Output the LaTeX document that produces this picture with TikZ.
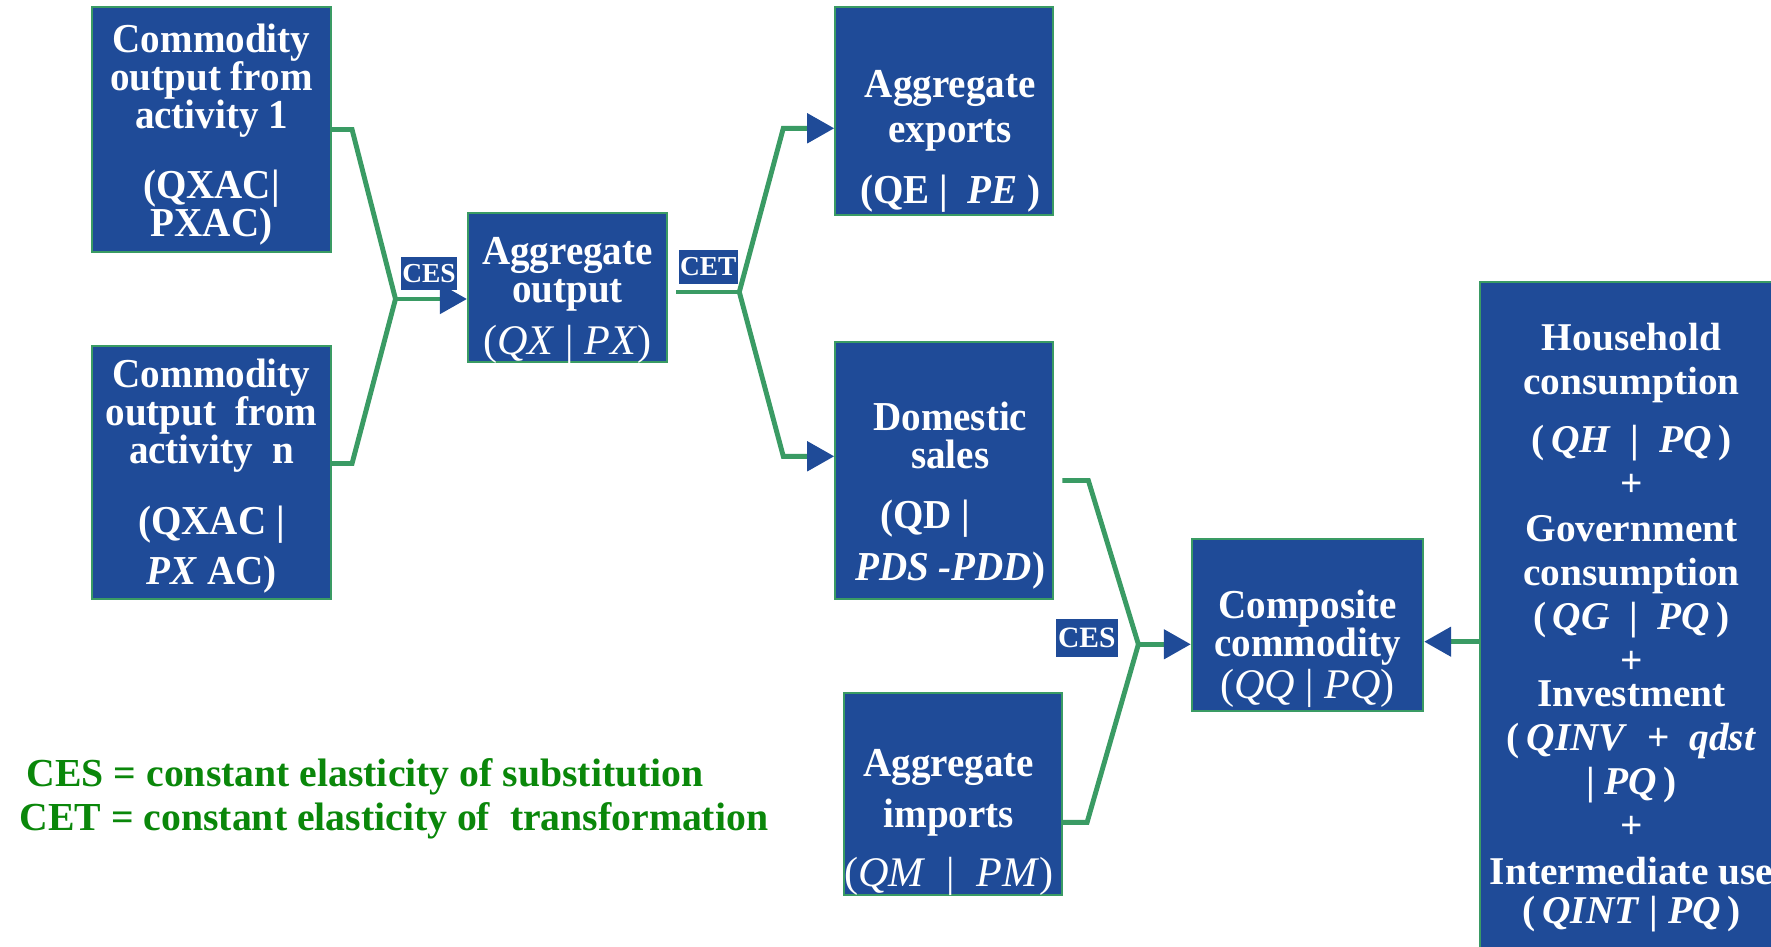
\documentclass[tikz,border=0pt]{standalone}
\usepackage{fontspec}
\setmainfont{Liberation Serif}
\newfontfamily\boxfont[FakeStretch=0.95]{Liberation Serif}
\usetikzlibrary{arrows.meta}
\definecolor{boxblue}{RGB}{31,75,152}
\definecolor{linegreen}{RGB}{58,155,100}
\definecolor{notegreen}{RGB}{10,135,10}
\newcommand{\priceline}[1]{{\rmfamily\mdseries\fontsize{12}{10.8}\selectfont #1}}

\begin{document}
\begin{tikzpicture}[
  block/.style={draw=linegreen, line width=0.6pt, fill=boxblue, inner sep=0pt},
  blocktext/.style={text=white, align=center, inner sep=0pt,
    font=\boxfont\bfseries\fontsize{11.7}{10.8}\selectfont},
  tag/.style={fill=boxblue, text=white, inner sep=0pt, font=\bfseries\fontsize{7.8}{8}\selectfont},
  link/.style={draw=linegreen, line width=1.4pt},
  feed/.style={link, -{Triangle[length=0.27cm, width=0.29cm, color=boxblue]}},
  note/.style={anchor=base west, inner sep=0pt, text=notegreen, font=\bfseries\fontsize{11.3}{12}\selectfont},
]

\useasboundingbox (0,0) rectangle (17.71,-9.47);
\clip (0,0) rectangle (17.71,-9.47);

\node[block, minimum width=2.39cm, minimum height=2.45cm] (act1) at (2.115,-1.295) {};
\node[blocktext] (act1text) at ([yshift=-0.05cm]act1)
  {Commodity\\output from\\activity 1\\[9pt](QXAC|\\PXAC)};
\node[block, minimum width=2.39cm, minimum height=2.53cm] (actn) at (2.115,-4.725) {};
\node[blocktext] (actntext) at ([yshift=-0.035cm]actn)
  {Commodity\\output~ from\\activity~ n\\[9.5pt](QXAC |\\[3.4pt]\textit{PX} AC)};

\node[block, minimum width=1.99cm, minimum height=1.49cm] (aggout) at (5.675,-2.875) {};
\node[blocktext] (aggouttext) at ([yshift=-0.13cm]aggout)
  {Aggregate\\output\\[3pt]\priceline{(\textit{QX} | \textit{PX})}};

\node[block, minimum width=2.18cm, minimum height=2.077cm] (exports) at (9.443,-1.112) {};
\node[blocktext] (exportstext) at ([shift={(0.06,-0.3)}]exports)
  {Aggregate\\[2pt]exports\\[6.5pt](QE |~ \textit{PE} )};
\node[block, minimum width=2.18cm, minimum height=2.576cm] (domestic) at (9.443,-4.705) {};
\node[blocktext] (domestictext) at ([shift={(0.06,-0.25)}]domestic)
  {Domestic\\sales\\[6.3pt](QD |\makebox[0.5cm]{}\\[3.9pt]\textit{PDS -PDD})};
\node[block, minimum width=2.175cm, minimum height=2.02cm] (imports) at (9.528,-7.943) {};
\node[blocktext] (importstext) at ([shift={(-0.04,-0.28)}]imports)
  {Aggregate\\[3.9pt]imports\\[4.8pt]\priceline{(\textit{QM} ~|~ \textit{PM})}};

\node[block, minimum width=2.313cm, minimum height=1.717cm] (composite) at (13.075,-6.25) {};
\node[blocktext] (compositetext) at ([yshift=-0.24cm]composite)
  {Composite\\commodity\\\priceline{(\textit{QQ} | \textit{PQ})}};

\node[block, minimum width=3.03cm, minimum height=7cm] (demand) at (16.315,-6.317) {};
\node[blocktext, font=\bfseries\fontsize{11.2}{12.5}\selectfont] (demandtext) at ([yshift=0.04cm]demand)
  {Household\\consumption\\[4pt](\,\textit{QH} ~|~ \textit{PQ}\,)\\+\\[0.4pt]Government\\consumption\\(\,\textit{QG} ~|~ \textit{PQ}\,)\\+\\[-3pt]Investment\\(\,\textit{QINV} ~+~ \textit{qdst}\\|~\textit{PQ}\,)\\+\\[0.5pt]Intermediate use\\[-1.3pt](\,\textit{QINT} | \textit{PQ}\,)};

\node[tag, minimum width=0.56cm, minimum height=0.33cm] (ces1) at (4.29,-2.735) {CES};
\node[tag, minimum width=0.587cm, minimum height=0.34cm] (cet) at (7.083,-2.67) {CET};
\node[tag, minimum width=0.617cm, minimum height=0.374cm, font=\bfseries\fontsize{8.4}{9}\selectfont] (ces2) at (10.868,-6.38) {CES};

\coordinate (j1) at (3.955,-2.99);
\draw[link] (act1.east) -- ++(0.2,0) -- (j1);
\draw[link] ([yshift=0.9mm]actn.east) -- ++(0.2,0) -- (j1);
\draw[feed] (j1) -- (j1 -| aggout.west);

\coordinate (j2) at (7.393,-2.92);
\coordinate (up) at (7.833,-1.283);
\coordinate (dn) at (7.833,-4.563);
\draw[link] (aggout.east |- j2) ++(0.08,0) -- (j2);
\draw[feed] (j2) -- (up) -- (up -| exports.west);
\draw[feed] (j2) -- (dn) -- (dn -| domestic.west);

\coordinate (j3) at (11.384,-6.443);
\draw[link] ([shift={(0.08,-0.10)}]domestic.east) -- ++(0.26,0) -- (j3);
\draw[link] ([yshift=-0.28cm]imports.east) -- ++(0.245,0) -- (j3);
\draw[feed] (j3) -- (j3 -| composite.west);

\coordinate (din) at ([yshift=-0.1cm]demand.west);
\draw[feed] (din) -- (din -| composite.east);

\node[note] (note1) at (0.26,-7.867) {CES = constant elasticity of substitution};
\node[note] (note2) at (0.19,-8.307) {CET = constant elasticity of~ transformation};

\end{tikzpicture}
\end{document}
